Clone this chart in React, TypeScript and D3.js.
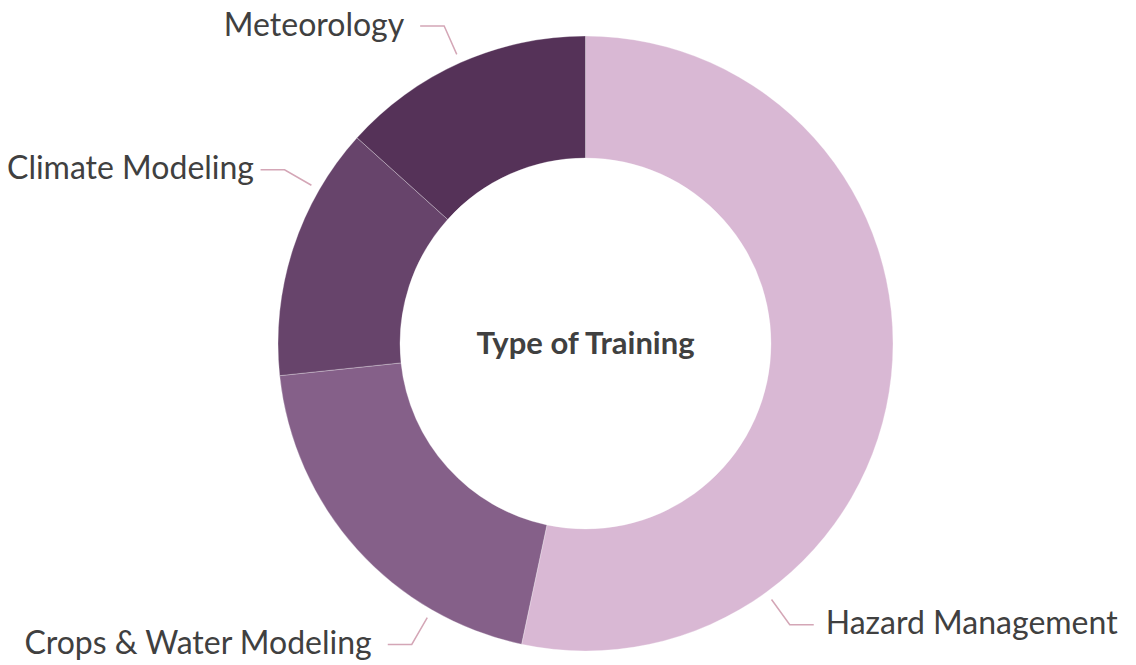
import React, { useEffect, useRef } from "react";
import * as d3 from "d3";

const categories = ["Hazard Management", "Crops & Water Modeling", "Climate Modeling", "Meteorology"];
const counts = [8, 3, 2, 2];
const colors = ["#d9b8d4", "#856089", "#67446b", "#553258"];
const title = "Type of Training";

// label leader angles (degrees clockwise from 12 o'clock), as placed in the original
const labelAngles = [144, 210, 300, 336];

const width = 1136;
const height = 665;

const App: React.FC = () => {
  const svgRef = useRef<SVGSVGElement>(null);

  useEffect(() => {
    if (!svgRef.current) return;
    const svg = d3.select(svgRef.current);
    svg.selectAll("*").remove();

    const cx = 585.5;
    const cy = 343.5;
    const outerR = 307.5;
    const innerR = 185.5;

    const pie = d3.pie<number>().sort(null).value(d => d);
    const arcs = pie(counts);
    const arc = d3.arc<d3.PieArcDatum<number>>().innerRadius(innerR).outerRadius(outerR);

    const g = svg.append("g").attr("transform", `translate(${cx},${cy})`);

    g.selectAll("path.slice")
      .data(arcs)
      .join("path")
      .attr("class", "slice")
      .attr("d", arc)
      .attr("fill", (_, i) => colors[i])
      .attr("stroke", "#ffffff")
      .attr("stroke-opacity", 0.5)
      .attr("stroke-width", 0.6);

    // leader lines + labels
    const pt = (deg: number, r: number): [number, number] => {
      const a = (deg * Math.PI) / 180;
      return [Math.sin(a) * r, -Math.cos(a) * r];
    };

    categories.forEach((name, i) => {
      const deg = labelAngles[i];
      const right = deg < 180;
      const p0 = pt(deg, outerR + 9);
      const p1 = pt(deg, outerR + 40);
      const p2: [number, number] = [p1[0] + (right ? 24 : -24), p1[1]];

      g.append("path")
        .attr("d", d3.line()([p0, p1, p2]))
        .attr("fill", "none")
        .attr("stroke", "#d4a6b6")
        .attr("stroke-width", 1.5);

      const label = g.append("text")
        .attr("x", p2[0] + (right ? 12 : -16))
        .attr("y", p2[1])
        .attr("dy", "0.3em")
        .attr("text-anchor", right ? "start" : "end")
        .attr("font-family", "Lato, sans-serif")
        .attr("font-size", 32)
        .attr("fill", "#404040")
        .text(name);

      // keep labels inside the canvas
      const node = label.node() as SVGTextElement;
      const w = node.getComputedTextLength();
      if (!right) {
        const left = cx + p2[0] - 16 - w;
        if (left < 7) label.attr("x", p2[0] - 16 + (7 - left));
      } else {
        const rightEdge = cx + p2[0] + 12 + w;
        if (rightEdge > width - 7) label.attr("x", p2[0] + 12 - (rightEdge - (width - 7)));
      }
    });

    g.append("text")
      .attr("x", 0)
      .attr("y", 0)
      .attr("dy", "0.35em")
      .attr("text-anchor", "middle")
      .attr("font-family", "Lato, sans-serif")
      .attr("font-weight", "bold")
      .attr("font-size", 31)
      .attr("fill", "#404040")
      .text(title);
  }, []);

  return (
    <svg
      ref={svgRef}
      width={width}
      height={height}
      style={{ position: "absolute", left: 0, top: 0, background: "#ffffff" }}
    />
  );
};

export default App;
